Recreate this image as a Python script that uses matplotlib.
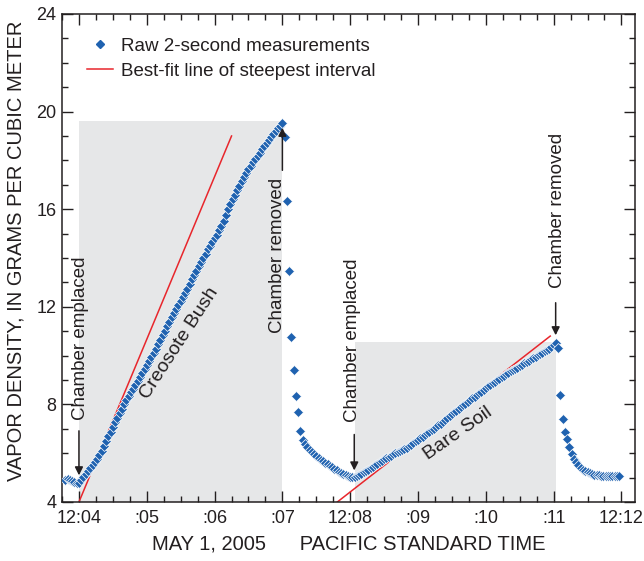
import numpy as np
import matplotlib
matplotlib.use("Agg")
import matplotlib.pyplot as plt
from matplotlib.lines import Line2D
from matplotlib.patches import Rectangle
from matplotlib.ticker import MultipleLocator, FixedLocator

plt.rcParams['font.family'] = ['Liberation Sans', 'DejaVu Sans']

# raw 2-second measurements, each segment: (first sample, seconds after 12:04:00), values g/m3
pre_start = -12
pre_values = [4.92, 4.93, 4.91, 4.87, 4.82, 4.77]

creosote_start = 0
creosote_values = [
    4.78, 4.90, 5.03, 5.15, 5.26, 5.38, 5.50, 5.63, 5.78, 5.92,
    6.11, 6.30, 6.50, 6.69, 6.88, 7.07, 7.27, 7.46, 7.65, 7.83,
    8.01, 8.18, 8.34, 8.49, 8.65, 8.81, 8.96, 9.12, 9.28, 9.44,
    9.60, 9.77, 9.93, 10.10, 10.28, 10.47, 10.65, 10.83, 11.02, 11.20,
    11.38, 11.57, 11.75, 11.92, 12.08, 12.25, 12.42, 12.58, 12.75, 12.93,
    13.12, 13.30, 13.48, 13.67, 13.85, 14.02, 14.18, 14.35, 14.50, 14.65,
    14.80, 14.96, 15.13, 15.30, 15.53, 15.77, 16.00, 16.20, 16.40, 16.60,
    16.78, 16.97, 17.15, 17.32, 17.48, 17.65, 17.78, 17.92, 18.05, 18.18,
    18.32, 18.45, 18.58, 18.72, 18.85, 18.97, 19.08, 19.20, 19.31, 19.42,
    19.52,
]

recovery1_start = 182
recovery1_values = [
    18.95, 16.35, 13.47, 10.77, 9.41, 8.34, 7.70, 6.91, 6.54, 6.38,
    6.25, 6.14, 6.04, 5.95, 5.88, 5.80, 5.73, 5.67, 5.60, 5.54,
    5.48, 5.42, 5.36, 5.30, 5.24, 5.19, 5.14, 5.10, 5.06, 5.03,
    5.01,
]

baresoil_start = 244
baresoil_values = [
    5.03, 5.07, 5.11, 5.16, 5.21, 5.26, 5.31, 5.38, 5.45, 5.51,
    5.57, 5.63, 5.69, 5.75, 5.80, 5.86, 5.90, 5.95, 5.99, 6.04,
    6.08, 6.13, 6.17, 6.22, 6.28, 6.35, 6.42, 6.48, 6.55, 6.61,
    6.68, 6.74, 6.81, 6.88, 6.94, 7.01, 7.08, 7.14, 7.21, 7.28,
    7.36, 7.44, 7.52, 7.60, 7.68, 7.75, 7.82, 7.89, 7.96, 8.03,
    8.10, 8.17, 8.25, 8.31, 8.38, 8.45, 8.52, 8.59, 8.66, 8.74,
    8.80, 8.86, 8.93, 8.99, 9.05, 9.11, 9.18, 9.24, 9.29, 9.35,
    9.40, 9.46, 9.51, 9.57, 9.62, 9.68, 9.74, 9.79, 9.85, 9.90,
    9.95, 10.01, 10.06, 10.12, 10.17, 10.23, 10.29, 10.35, 10.42,
]

recovery2_start = 422
recovery2_values = [
    10.50, 10.30, 8.39, 7.39, 6.87, 6.57, 6.24, 5.98, 5.78, 5.62,
    5.50, 5.40, 5.32, 5.26, 5.21, 5.17, 5.14, 5.12, 5.10, 5.09,
    5.08, 5.08, 5.07, 5.07, 5.07, 5.07, 5.07, 5.07, 5.08,
]
sample_step = 2  # seconds

# chamber periods (minutes after 12:04) and top of shaded box
chamber_on = [0.0, 4.07]
chamber_off = [3.0, 7.03]
shade_top = [19.6, 10.56]
period_labels = ["Creosote Bush", "Bare Soil"]

# best-fit lines of steepest interval (minutes after 12:04, g/m3)
fit_x = [[0.0, 2.25], [3.81, 6.95]]
fit_y = [[4.0, 19.0], [4.0, 10.8]]

tick_minutes = [0, 1, 2, 3, 4, 5, 6, 7, 8]
tick_labels = ["12:04", ":05", ":06", ":07", "12:08", ":09", ":10", ":11", "12:12"]

blue = "#1f62b0"
red = "#e8262c"
shade = "#e6e7e8"
ink = "#231f20"

fig = plt.figure(figsize=(6.44, 5.61), dpi=100)
ax = fig.add_axes([62 / 644, 1 - 502 / 561, 573 / 644, 488 / 561])

for on, off, top in zip(chamber_on, chamber_off, shade_top):
    ax.add_patch(Rectangle((on, 4), off - on, top - 4, facecolor=shade,
                           edgecolor="none", zorder=0))

for xs, ys in zip(fit_x, fit_y):
    ax.plot(xs, ys, color=red, lw=1.1, zorder=2)

segments = [(pre_start, pre_values), (creosote_start, creosote_values),
            (recovery1_start, recovery1_values), (baresoil_start, baresoil_values),
            (recovery2_start, recovery2_values)]
for start, vals in segments:
    t = (start + sample_step * np.arange(len(vals))) / 60.0
    ax.plot(t, vals, ls="none", marker="D", ms=5.2, color=blue,
            mec="white", mew=0.5, zorder=3)

ax.set_xlim(-0.25, 8.2)
ax.set_ylim(4, 24)
ax.xaxis.set_major_locator(FixedLocator(tick_minutes))
ax.set_xticklabels(tick_labels)
ax.xaxis.set_minor_locator(MultipleLocator(0.25))
ax.yaxis.set_major_locator(MultipleLocator(4))
ax.yaxis.set_minor_locator(MultipleLocator(1))
ax.tick_params(which="both", direction="in", top=True, right=True,
               labelsize=13, width=1, colors=ink)
ax.tick_params(which="major", length=8)
ax.tick_params(axis="x", which="major", pad=6)
ax.tick_params(axis="y", which="major", pad=4)
ax.tick_params(which="minor", length=4.5)
for sp in ax.spines.values():
    sp.set_linewidth(1.1)
    sp.set_color(ink)

ax.set_xlabel("MAY 1, 2005      PACIFIC STANDARD TIME", fontsize=14.5, labelpad=5,
              color=ink)
ax.set_ylabel("VAPOR DENSITY, IN GRAMS PER CUBIC METER", fontsize=14.5, color=ink)
ax.yaxis.set_label_coords(-0.064, 0.514)

# annotations
txt = dict(fontsize=13.5, color=ink, rotation=90, ha="center")
arrow = dict(arrowstyle="-|>", color=ink, lw=1.1, mutation_scale=12)
ax.text(0.02, 7.36, "Chamber emplaced", va="bottom", **txt)
ax.annotate("", xy=(0.0, 4.98), xytext=(0.0, 7.03), arrowprops=arrow)
ax.text(4.04, 7.29, "Chamber emplaced", va="bottom", **txt)
ax.annotate("", xy=(4.06, 5.18), xytext=(4.06, 6.88), arrowprops=arrow)
ax.text(2.93, 10.93, "Chamber removed", va="bottom", **txt)
ax.annotate("", xy=(3.0, 19.45), xytext=(3.0, 17.48), arrowprops=arrow)
ax.text(7.06, 12.77, "Chamber removed", va="bottom", **txt)
ax.annotate("", xy=(7.03, 10.72), xytext=(7.03, 12.28), arrowprops=arrow)

ax.text(1.485, 10.52, period_labels[0], fontsize=14, color=ink,
        rotation=57, ha="center", va="center", rotation_mode="anchor")
ax.text(5.59, 6.81, period_labels[1], fontsize=14, color=ink,
        rotation=35, ha="center", va="center", rotation_mode="anchor")

handles = [Line2D([], [], ls="none", marker="D", ms=4.5, color=blue),
           Line2D([], [], color=red, lw=1.1)]
ax.legend(handles, ["Raw 2-second measurements", "Best-fit line of steepest interval"],
          loc="upper left", bbox_to_anchor=(0.044, 0.951), frameon=False,
          fontsize=13.5, handlelength=1.4, handletextpad=0.4, labelspacing=0.42,
          borderpad=0, borderaxespad=0, labelcolor=ink)

fig.savefig("out.png", dpi=100)
